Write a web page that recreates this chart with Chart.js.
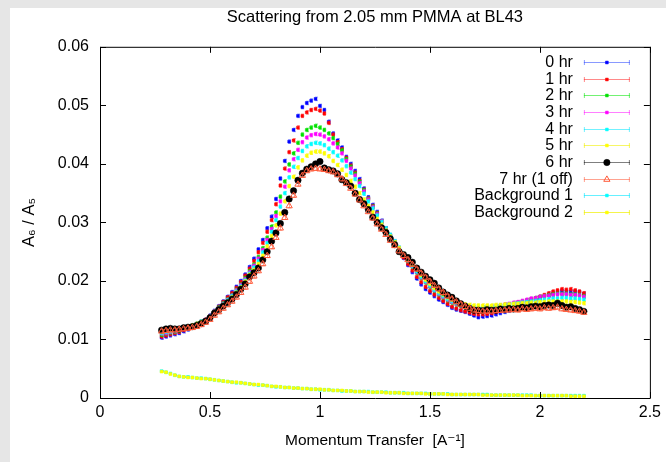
<!DOCTYPE html>
<html>
<head>
<meta charset="utf-8">
<script src="https://cdn.jsdelivr.net/npm/chart.js@4.4.1/dist/chart.umd.min.js"></script>
<style>
  html, body { margin: 0; padding: 0; background: #ffffff; }
  canvas { display: block; }
</style>
</head>
<body>
<canvas id="ScatterChart" width="666" height="462"></canvas>
<script>
// momentum transfer values (A^-1)
const qValues = [
  0.28,0.30,0.32,0.34,0.36,0.38,0.40,0.42,0.44,0.46,
  0.48,0.50,0.52,0.54,0.56,0.58,0.60,0.62,0.64,0.66,
  0.68,0.70,0.72,0.74,0.76,0.78,0.80,0.82,0.84,0.86,
  0.88,0.90,0.92,0.94,0.96,0.98,1.00,1.02,1.04,1.06,
  1.08,1.10,1.12,1.14,1.16,1.18,1.20,1.22,1.24,1.26,
  1.28,1.30,1.32,1.34,1.36,1.38,1.40,1.42,1.44,1.46,
  1.48,1.50,1.52,1.54,1.56,1.58,1.60,1.62,1.64,1.66,
  1.68,1.70,1.72,1.74,1.76,1.78,1.80,1.82,1.84,1.86,
  1.88,1.90,1.92,1.94,1.96,1.98,2.00,2.02,2.04,2.06,
  2.08,2.10,2.12,2.14,2.16,2.18,2.20
];

const hr0 = [
  0.0103,0.0105,0.0107,0.0109,0.0111,0.0114,0.0117,0.0120,0.0124,0.0129,
  0.0134,0.0141,0.0149,0.0157,0.0165,0.0173,0.0181,0.0190,0.0200,0.0211,
  0.0224,0.0238,0.0254,0.0270,0.0290,0.0310,0.0340,0.0375,0.0405,0.0438,
  0.0458,0.0482,0.0497,0.0504,0.0508,0.0511,0.0499,0.0492,0.0472,0.0452,
  0.0440,0.0428,0.0412,0.0400,0.0388,0.0374,0.0358,0.0343,0.0330,0.0318,
  0.0303,0.0290,0.0277,0.0264,0.0251,0.0239,0.0227,0.0215,0.0204,0.0194,
  0.0186,0.0180,0.0174,0.0168,0.0164,0.0159,0.0154,0.0151,0.0149,0.0147,
  0.0144,0.0141,0.0138,0.0139,0.0140,0.0141,0.0143,0.0145,0.0147,0.0149,
  0.0152,0.0155,0.0158,0.0161,0.0164,0.0167,0.0170,0.0174,0.0176,0.0179,
  0.0181,0.0183,0.0182,0.0182,0.0182,0.0181,0.0178
];
const hr1 = [
  0.0105,0.0107,0.0109,0.0111,0.0113,0.0116,0.0119,0.0122,0.0126,0.0130,
  0.0134,0.0140,0.0148,0.0156,0.0164,0.0172,0.0179,0.0188,0.0198,0.0209,
  0.0221,0.0234,0.0249,0.0265,0.0284,0.0304,0.0331,0.0363,0.0392,0.0420,
  0.0440,0.0462,0.0482,0.0488,0.0492,0.0494,0.0491,0.0486,0.0470,0.0450,
  0.0437,0.0425,0.0410,0.0397,0.0385,0.0371,0.0356,0.0341,0.0328,0.0316,
  0.0302,0.0289,0.0276,0.0264,0.0252,0.0240,0.0229,0.0218,0.0207,0.0198,
  0.0190,0.0183,0.0177,0.0171,0.0166,0.0161,0.0156,0.0153,0.0150,0.0148,
  0.0146,0.0144,0.0143,0.0143,0.0144,0.0145,0.0147,0.0149,0.0151,0.0153,
  0.0155,0.0158,0.0161,0.0164,0.0167,0.0170,0.0173,0.0176,0.0179,0.0182,
  0.0184,0.0186,0.0185,0.0186,0.0184,0.0182,0.0179
];
const hr2 = [
  0.0108,0.0110,0.0112,0.0113,0.0115,0.0118,0.0121,0.0124,0.0127,0.0131,
  0.0133,0.0139,0.0147,0.0155,0.0162,0.0169,0.0176,0.0185,0.0194,0.0205,
  0.0217,0.0228,0.0241,0.0256,0.0274,0.0293,0.0317,0.0344,0.0370,0.0399,
  0.0418,0.0436,0.0450,0.0458,0.0462,0.0465,0.0462,0.0458,0.0452,0.0444,
  0.0434,0.0423,0.0408,0.0395,0.0383,0.0369,0.0355,0.0340,0.0327,0.0315,
  0.0302,0.0290,0.0278,0.0266,0.0255,0.0244,0.0234,0.0224,0.0214,0.0205,
  0.0197,0.0190,0.0183,0.0177,0.0172,0.0167,0.0163,0.0160,0.0157,0.0155,
  0.0153,0.0152,0.0152,0.0153,0.0153,0.0154,0.0155,0.0157,0.0158,0.0160,
  0.0161,0.0163,0.0165,0.0167,0.0169,0.0171,0.0173,0.0174,0.0176,0.0177,
  0.0178,0.0178,0.0178,0.0177,0.0177,0.0176,0.0174
];
const hr3 = [
  0.0110,0.0111,0.0113,0.0114,0.0116,0.0118,0.0121,0.0124,0.0127,0.0131,
  0.0133,0.0139,0.0147,0.0154,0.0161,0.0168,0.0175,0.0184,0.0193,0.0203,
  0.0215,0.0226,0.0238,0.0253,0.0270,0.0289,0.0311,0.0336,0.0361,0.0389,
  0.0408,0.0424,0.0437,0.0445,0.0449,0.0451,0.0450,0.0447,0.0442,0.0435,
  0.0428,0.0418,0.0405,0.0392,0.0380,0.0367,0.0353,0.0339,0.0326,0.0314,
  0.0302,0.0290,0.0278,0.0267,0.0256,0.0245,0.0235,0.0225,0.0215,0.0206,
  0.0198,0.0191,0.0184,0.0178,0.0173,0.0168,0.0164,0.0161,0.0158,0.0156,
  0.0155,0.0154,0.0154,0.0154,0.0155,0.0156,0.0157,0.0158,0.0160,0.0161,
  0.0163,0.0164,0.0166,0.0168,0.0170,0.0171,0.0173,0.0174,0.0175,0.0176,
  0.0177,0.0177,0.0177,0.0176,0.0176,0.0175,0.0173
];
const hr4 = [
  0.0111,0.0113,0.0114,0.0115,0.0117,0.0119,0.0121,0.0124,0.0127,0.0131,
  0.0132,0.0139,0.0147,0.0153,0.0160,0.0167,0.0174,0.0182,0.0191,0.0201,
  0.0213,0.0223,0.0234,0.0249,0.0265,0.0284,0.0304,0.0327,0.0350,0.0377,
  0.0395,0.0410,0.0422,0.0430,0.0434,0.0436,0.0435,0.0432,0.0426,0.0420,
  0.0414,0.0406,0.0396,0.0385,0.0374,0.0362,0.0349,0.0336,0.0324,0.0312,
  0.0301,0.0290,0.0279,0.0268,0.0257,0.0246,0.0236,0.0226,0.0216,0.0207,
  0.0199,0.0192,0.0185,0.0179,0.0174,0.0169,0.0165,0.0162,0.0159,0.0157,
  0.0156,0.0155,0.0155,0.0155,0.0156,0.0156,0.0157,0.0158,0.0159,0.0160,
  0.0161,0.0162,0.0163,0.0164,0.0165,0.0166,0.0167,0.0168,0.0169,0.0170,
  0.0170,0.0171,0.0171,0.0170,0.0170,0.0169,0.0168
];
const hr5 = [
  0.0113,0.0115,0.0116,0.0117,0.0118,0.0120,0.0122,0.0124,0.0127,0.0130,
  0.0132,0.0138,0.0146,0.0152,0.0159,0.0165,0.0172,0.0180,0.0189,0.0199,
  0.0211,0.0219,0.0229,0.0243,0.0259,0.0277,0.0295,0.0315,0.0336,0.0362,
  0.0378,0.0394,0.0406,0.0414,0.0419,0.0421,0.0421,0.0418,0.0413,0.0405,
  0.0398,0.0390,0.0381,0.0371,0.0361,0.0350,0.0339,0.0328,0.0317,0.0306,
  0.0296,0.0286,0.0276,0.0266,0.0256,0.0246,0.0237,0.0228,0.0219,0.0210,
  0.0202,0.0195,0.0188,0.0182,0.0177,0.0172,0.0168,0.0165,0.0162,0.0160,
  0.0159,0.0158,0.0158,0.0158,0.0158,0.0158,0.0159,0.0159,0.0160,0.0160,
  0.0161,0.0161,0.0162,0.0162,0.0163,0.0163,0.0164,0.0164,0.0165,0.0165,
  0.0165,0.0165,0.0165,0.0164,0.0164,0.0163,0.0162
];
const hr6 = [
  0.0116,0.0118,0.0119,0.0118,0.0118,0.0120,0.0121,0.0122,0.0124,0.0127,
  0.0131,0.0137,0.0145,0.0151,0.0157,0.0163,0.0169,0.0177,0.0186,0.0195,
  0.0207,0.0214,0.0222,0.0236,0.0250,0.0268,0.0282,0.0298,0.0317,0.0340,
  0.0354,0.0372,0.0384,0.0391,0.0395,0.0400,0.0404,0.0393,0.0390,0.0388,
  0.0383,0.0373,0.0368,0.0362,0.0350,0.0339,0.0332,0.0322,0.0309,0.0300,
  0.0291,0.0283,0.0272,0.0262,0.0250,0.0245,0.0240,0.0232,0.0222,0.0215,
  0.0208,0.0202,0.0196,0.0188,0.0181,0.0176,0.0172,0.0166,0.0161,0.0157,
  0.0153,0.0150,0.0150,0.0149,0.0151,0.0150,0.0150,0.0152,0.0151,0.0153,
  0.0152,0.0153,0.0155,0.0154,0.0156,0.0157,0.0156,0.0158,0.0159,0.0158,
  0.0162,0.0158,0.0155,0.0156,0.0153,0.0151,0.0148
];
const hr7 = [
  0.0114,0.0115,0.0116,0.0116,0.0117,0.0118,0.0119,0.0120,0.0122,0.0125,
  0.0129,0.0134,0.0141,0.0147,0.0153,0.0159,0.0165,0.0172,0.0180,0.0189,
  0.0199,0.0208,0.0217,0.0229,0.0243,0.0258,0.0274,0.0290,0.0308,0.0328,
  0.0346,0.0365,0.0380,0.0388,0.0391,0.0392,0.0391,0.0390,0.0388,0.0386,
  0.0381,0.0374,0.0366,0.0358,0.0348,0.0338,0.0328,0.0318,0.0307,0.0297,
  0.0288,0.0279,0.0269,0.0260,0.0251,0.0243,0.0236,0.0228,0.0220,0.0213,
  0.0206,0.0199,0.0192,0.0186,0.0180,0.0174,0.0169,0.0164,0.0160,0.0156,
  0.0153,0.0150,0.0149,0.0148,0.0148,0.0148,0.0149,0.0149,0.0150,0.0150,
  0.0151,0.0150,0.0152,0.0151,0.0152,0.0153,0.0152,0.0154,0.0153,0.0154,
  0.0155,0.0152,0.0151,0.0150,0.0149,0.0148,0.0146
];
const bg1 = [
  0.0046,0.0044,0.0042,0.0039,0.0037,0.0036,0.0036,0.0035,0.0034,0.0034,
  0.0033,0.0032,0.0031,0.0030,0.0029,0.0028,0.0027,0.0026,0.0026,0.0025,
  0.0024,0.0023,0.0022,0.0022,0.0021,0.0020,0.0019,0.0019,0.0018,0.0018,
  0.0017,0.0017,0.0016,0.0016,0.0015,0.0015,0.0014,0.0014,0.0014,0.0013,
  0.0013,0.0012,0.0012,0.0012,0.0011,0.0011,0.0011,0.0011,0.0010,0.0010,
  0.0010,0.0010,0.0009,0.0009,0.0009,0.0009,0.0008,0.0008,0.0008,0.0008,
  0.0008,0.0007,0.0007,0.0007,0.0007,0.0007,0.0006,0.0006,0.0006,0.0006,
  0.0006,0.0006,0.0006,0.0006,0.0006,0.0005,0.0005,0.0005,0.0005,0.0005,
  0.0005,0.0005,0.0005,0.0005,0.0005,0.0004,0.0004,0.0004,0.0004,0.0004,
  0.0004,0.0004,0.0004,0.0004,0.0004,0.0004,0.0004
];
const bg2 = [
  0.0045,0.0044,0.0041,0.0039,0.0037,0.0036,0.0035,0.0035,0.0034,0.0033,
  0.0033,0.0032,0.0031,0.0030,0.0029,0.0028,0.0027,0.0027,0.0026,0.0025,
  0.0024,0.0023,0.0023,0.0022,0.0021,0.0020,0.0020,0.0019,0.0018,0.0018,
  0.0017,0.0017,0.0016,0.0016,0.0015,0.0015,0.0015,0.0014,0.0014,0.0013,
  0.0013,0.0013,0.0012,0.0012,0.0011,0.0011,0.0011,0.0010,0.0010,0.0010,
  0.0010,0.0009,0.0009,0.0009,0.0009,0.0008,0.0008,0.0008,0.0008,0.0008,
  0.0007,0.0007,0.0007,0.0007,0.0007,0.0006,0.0006,0.0006,0.0006,0.0006,
  0.0006,0.0006,0.0006,0.0005,0.0005,0.0005,0.0005,0.0005,0.0005,0.0005,
  0.0005,0.0005,0.0004,0.0004,0.0004,0.0004,0.0004,0.0004,0.0004,0.0004,
  0.0004,0.0004,0.0004,0.0003,0.0003,0.0003,0.0003
];

const seriesNames = ['0 hr', '1 hr', '2 hr', '3 hr', '4 hr', '5 hr', '6 hr', '7 hr (1 off)', 'Background 1', 'Background 2'];
const seriesValues = [hr0, hr1, hr2, hr3, hr4, hr5, hr6, hr7, bg1, bg2];
const seriesErrors = [0.0003, 0.0003, 0.0003, 0.0003, 0.0003, 0.0003, 0.0003, 0.0003, 0.0001, 0.0001];

const xTickValues = [0, 0.5, 1, 1.5, 2, 2.5];
const xTickLabels = ['0', '0.5', '1', '1.5', '2', '2.5'];
const yTickValues = [0, 0.01, 0.02, 0.03, 0.04, 0.05, 0.06];
const yTickLabels = ['0', '0.01', '0.02', '0.03', '0.04', '0.05', '0.06'];

const fontFamily = "'Liberation Sans', Arial, 'DejaVu Sans', sans-serif";

// gnuplot-ish styles for each series
const styles = [
    { point: '#0000ff', bar: 'rgba(40,70,255,0.55)', shape: 'rect', r: 2 },
    { point: '#ff0000', bar: 'rgba(255,40,40,0.55)', shape: 'rect', r: 2 },
    { point: '#00e000', bar: 'rgba(0,230,0,0.55)', shape: 'rect', r: 2 },
    { point: '#ff00ff', bar: 'rgba(255,0,255,0.5)', shape: 'rect', r: 2 },
    { point: '#00ffff', bar: 'rgba(0,230,255,0.55)', shape: 'rect', r: 2 },
    { point: '#ffff00', bar: 'rgba(240,240,0,0.6)', shape: 'rect', r: 2 },
    { point: '#000000', bar: 'rgba(0,0,0,0.5)', shape: 'circle', r: 3.2 },
    { point: '#ff5a3a', bar: 'rgba(255,100,70,0.6)', shape: 'triangle', r: 3.6 },
    { point: '#00ffff', bar: 'rgba(0,230,255,0.6)', shape: 'rect', r: 2 },
    { point: '#ffff00', bar: 'rgba(240,240,0,0.7)', shape: 'rect', r: 2 }
];

const datasets = seriesNames.map((name, i) => {
    const st = styles[i];
    return {
        label: name,
        data: qValues.map((q, k) => ({ x: q, y: seriesValues[i][k] })),
        err: seriesErrors[i],
        barColor: st.bar,
        pointStyle: st.shape,
        pointRadius: st.r,
        pointBorderWidth: st.shape === 'triangle' ? 1 : 0.5,
        pointBorderColor: st.point,
        pointBackgroundColor: st.shape === 'triangle' ? 'rgba(0,0,0,0)' : st.point,
        showLine: false,
        order: seriesNames.length - i
    };
});

// grey page frame behind the white plot page
const frame = {
    id: 'frame',
    beforeDraw(chart) {
        const ctx = chart.ctx;
        ctx.save();
        ctx.fillStyle = '#e6e6e6';
        ctx.fillRect(0, 0, chart.width, chart.height);
        ctx.fillStyle = '#ffffff';
        ctx.fillRect(10, 8, chart.width - 10, chart.height - 8);
        ctx.restore();
    }
};

// centre the title over the plot box, like gnuplot does
const titleOverPlot = {
    id: 'titleOverPlot',
    afterLayout(chart) {
        const t = chart.titleBlock;
        if (t) {
            t.left = chart.chartArea.left;
            t.right = chart.chartArea.right;
            t.width = t.right - t.left;
        }
    }
};

// vertical error bars with small caps, drawn just before each dataset's points
const errorBars = {
    id: 'errorBars',
    beforeDatasetDraw(chart, args) {
        const ds = chart.data.datasets[args.index];
        const { ctx, scales: { x, y } } = chart;
        ctx.save();
        ctx.strokeStyle = ds.barColor;
        ctx.lineWidth = 1;
        ctx.beginPath();
        ds.data.forEach(p => {
            const px = Math.round(x.getPixelForValue(p.x)) + 0.5;
            const top = y.getPixelForValue(p.y + ds.err);
            const bot = y.getPixelForValue(p.y - ds.err);
            ctx.moveTo(px, top); ctx.lineTo(px, bot);
            ctx.moveTo(px - 1.5, top); ctx.lineTo(px + 1.5, top);
            ctx.moveTo(px - 1.5, bot); ctx.lineTo(px + 1.5, bot);
        });
        ctx.stroke();
        ctx.restore();
    }
};

// border box with inward ticks on all four sides
const boxTicks = {
    id: 'boxTicks',
    afterDraw(chart) {
        const { ctx, chartArea: a, scales: { x, y } } = chart;
        ctx.save();
        ctx.strokeStyle = '#000000';
        ctx.lineWidth = 1;
        ctx.beginPath();
        ctx.rect(a.left + 0.5, a.top + 0.5, a.right - a.left, a.bottom - a.top);
        xTickValues.forEach(v => {
            const px = Math.round(x.getPixelForValue(v)) + 0.5;
            ctx.moveTo(px, a.bottom); ctx.lineTo(px, a.bottom - 6);
            ctx.moveTo(px, a.top); ctx.lineTo(px, a.top + 6);
        });
        yTickValues.forEach(v => {
            const py = Math.round(y.getPixelForValue(v)) + 0.5;
            ctx.moveTo(a.left, py); ctx.lineTo(a.left + 6, py);
            ctx.moveTo(a.right, py); ctx.lineTo(a.right - 6, py);
        });
        ctx.stroke();
        ctx.restore();
    }
};

// gnuplot style key: right aligned labels, error bar sample on the right
const gnuKey = {
    id: 'gnuKey',
    afterDraw(chart) {
        const { ctx, chartArea: a } = chart;
        ctx.save();
        ctx.font = '16px ' + fontFamily;
        ctx.textAlign = 'right';
        ctx.textBaseline = 'middle';
        chart.data.datasets.forEach((ds, i) => {
            const yy = Math.round(a.top + 15 + i * 16.7) + 0.5;
            const x0 = a.right - 66, x1 = a.right - 20, xm = (x0 + x1) / 2;
            ctx.fillStyle = '#000000';
            ctx.fillText(ds.label, a.right - 77, yy);
            ctx.strokeStyle = ds.barColor;
            ctx.lineWidth = 1;
            ctx.beginPath();
            ctx.moveTo(x0, yy); ctx.lineTo(x1, yy);
            ctx.moveTo(x0 + 0.5, yy - 2.5); ctx.lineTo(x0 + 0.5, yy + 2.5);
            ctx.moveTo(x1 - 0.5, yy - 2.5); ctx.lineTo(x1 - 0.5, yy + 2.5);
            ctx.stroke();
            ctx.fillStyle = ds.pointBackgroundColor;
            ctx.strokeStyle = ds.pointBorderColor;
            ctx.lineWidth = ds.pointBorderWidth;
            Chart.helpers.drawPoint(ctx, {
                pointStyle: ds.pointStyle,
                radius: ds.pointRadius,
                borderWidth: ds.pointBorderWidth,
                rotation: 0
            }, xm, yy);
        });
        ctx.restore();
    }
};

const config = {
    type: 'scatter',
    data: { datasets: datasets },
    options: {
        responsive: false,
        animation: false,
        devicePixelRatio: 1,
        layout: { padding: { top: 0, left: 10, right: 16, bottom: 0 } },
        plugins: {
            legend: { display: false },
            tooltip: { enabled: false },
            title: {
                display: true,
                text: 'Scattering from 2.05 mm PMMA at BL43',
                color: '#000000',
                font: { family: fontFamily, size: 16.5, weight: 'normal' },
                padding: { top: 8, bottom: 19 }
            }
        },
        scales: {
            x: {
                type: 'linear',
                min: 0,
                max: 2.5,
                afterFit: s => { s.height = 64; },
                afterBuildTicks: s => { s.ticks = xTickValues.map(v => ({ value: v })); },
                grid: { display: false, drawTicks: false },
                border: { display: false },
                ticks: {
                    color: '#000000',
                    padding: 5,
                    maxRotation: 0,
                    font: { family: fontFamily, size: 16 },
                    callback: (v, i) => xTickLabels[i]
                },
                title: {
                    display: true,
                    text: 'Momentum Transfer  [A⁻¹]',
                    color: '#000000',
                    font: { family: fontFamily, size: 15.5 },
                    padding: { top: 0, bottom: 12 }
                }
            },
            y: {
                type: 'linear',
                min: 0,
                max: 0.06,
                afterFit: s => { s.width = 90; },
                afterBuildTicks: s => { s.ticks = yTickValues.map(v => ({ value: v })); },
                grid: { display: false, drawTicks: false },
                border: { display: false },
                ticks: {
                    color: '#000000',
                    padding: 11,
                    font: { family: fontFamily, size: 16 },
                    callback: (v, i) => yTickLabels[i]
                },
                title: {
                    display: true,
                    text: 'A₆ / A₅',
                    color: '#000000',
                    font: { family: fontFamily, size: 16.5 },
                    padding: { top: 10, bottom: 0 }
                }
            }
        }
    },
    plugins: [frame, titleOverPlot, errorBars, boxTicks, gnuKey]
};

const ctx = document.getElementById('ScatterChart');
new Chart(ctx, config);
</script>
</body>
</html>
